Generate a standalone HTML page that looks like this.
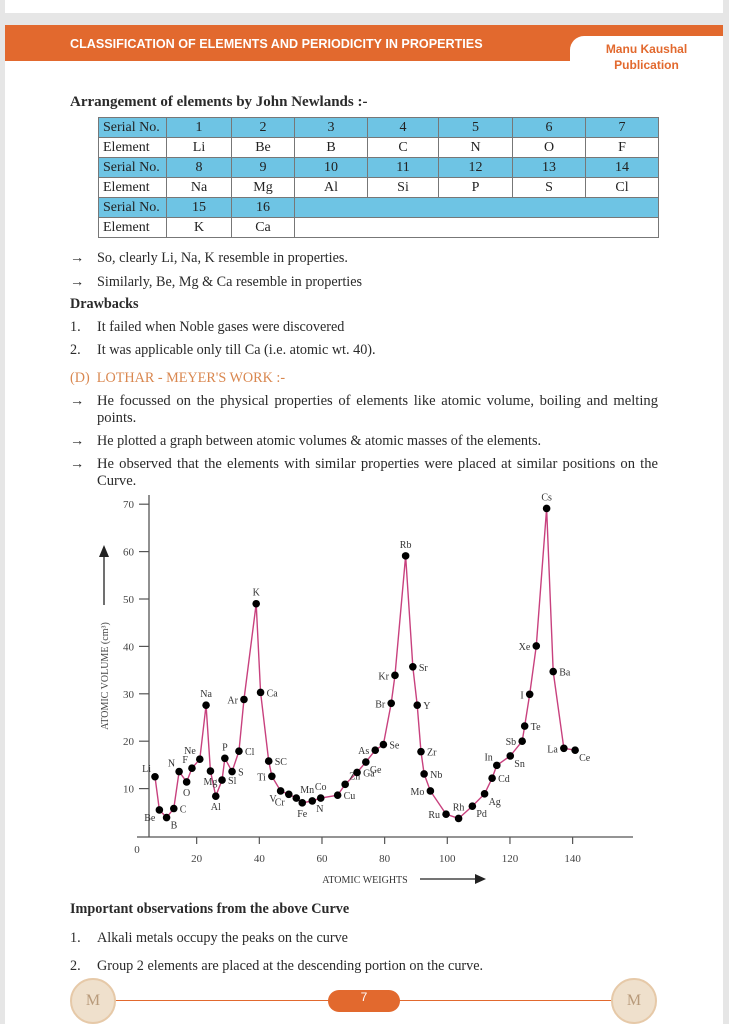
<!DOCTYPE html>
<html><head><meta charset="utf-8">
<style>
body{margin:0;width:729px;height:1024px;background:#e6e6e6;position:relative;overflow:hidden;font-family:"Liberation Serif",serif;color:#222}
.abs{position:absolute}
.t{position:absolute;font-size:14.2px;white-space:nowrap;color:#2a2a2a}
table{border-collapse:collapse;position:absolute;left:98px;top:117px;width:561px;font-size:14px;table-layout:fixed}
td{border:1px solid #777;height:19px;padding:0;text-align:center;line-height:19px}
td:first-child{text-align:left;padding-left:4px}
tr.s td{background:#6ec4e4}
</style></head><body>
<div class="abs" style="left:5px;top:0;width:718px;height:13px;background:#fff"></div>
<div class="abs" style="left:5px;top:25px;width:718px;height:999px;background:#fff"></div>
<div class="abs" style="left:5px;top:25px;width:718px;height:36px;background:#e2692e"></div>
<div class="abs" style="left:70px;top:37px;color:#fff;font:bold 12.6px 'Liberation Sans',sans-serif">CLASSIFICATION OF ELEMENTS AND PERIODICITY IN PROPERTIES</div>
<div class="abs" style="left:570px;top:36px;width:153px;height:46px;background:#fff;border-top-left-radius:14px;text-align:center;color:#e2692e;font:bold 12px 'Liberation Sans',sans-serif;line-height:16px;padding-top:5px">Manu Kaushal<br>Publication</div>

<div class="t" style="left:70px;top:94px;font-weight:bold;font-size:15px">Arrangement of elements by John Newlands :-</div>
<table>
<colgroup><col style="width:68px"><col style="width:65px"><col style="width:63px"><col style="width:73px"><col style="width:71px"><col style="width:74px"><col style="width:73px"><col style="width:73px"></colgroup>
<tr class="s"><td>Serial No.</td><td>1</td><td>2</td><td>3</td><td>4</td><td>5</td><td>6</td><td>7</td></tr>
<tr><td>Element</td><td>Li</td><td>Be</td><td>B</td><td>C</td><td>N</td><td>O</td><td>F</td></tr>
<tr class="s"><td>Serial No.</td><td>8</td><td>9</td><td>10</td><td>11</td><td>12</td><td>13</td><td>14</td></tr>
<tr><td>Element</td><td>Na</td><td>Mg</td><td>Al</td><td>Si</td><td>P</td><td>S</td><td>Cl</td></tr>
<tr class="s"><td>Serial No.</td><td>15</td><td>16</td><td colspan="5"></td></tr>
<tr><td>Element</td><td>K</td><td>Ca</td><td colspan="5"></td></tr>
</table>

<div class="t" style="left:70px;top:250px">→</div>
<div class="t" style="left:97px;top:250px">So, clearly Li, Na, K resemble in properties.</div>
<div class="t" style="left:70px;top:274px">→</div>
<div class="t" style="left:97px;top:274px">Similarly, Be, Mg &amp; Ca resemble in properties</div>
<div class="t" style="left:70px;top:296px;font-weight:bold">Drawbacks</div>
<div class="t" style="left:70px;top:319px">1.</div>
<div class="t" style="left:97px;top:319px">It failed when Noble gases were discovered</div>
<div class="t" style="left:70px;top:342px">2.</div>
<div class="t" style="left:97px;top:342px">It was applicable only till Ca (i.e. atomic wt. 40).</div>
<div class="t" style="left:70px;top:370px;color:#d9874f">(D)&nbsp;&nbsp;LOTHAR - MEYER'S WORK :-</div>
<div class="t" style="left:70px;top:393px">→</div>
<div class="t" style="left:97px;top:393px;width:561px;white-space:normal;text-align:justify;line-height:17px;text-align-last:left;font-size:14.6px">He focussed on the physical properties of elements like atomic volume, boiling and melting points.</div>
<div class="t" style="left:70px;top:433px">→</div>
<div class="t" style="left:97px;top:433px">He plotted a graph between atomic volumes &amp; atomic masses of the elements.</div>
<div class="t" style="left:70px;top:456px">→</div>
<div class="t" style="left:97px;top:456px;width:561px;white-space:normal;text-align:justify;line-height:17px;text-align-last:left;font-size:14.6px">He observed that the elements with similar properties were placed at similar positions on the Curve.</div>

<svg id="chart" class="abs" style="left:0;top:0" width="729" height="1024" font-family="Liberation Serif, serif"></svg>

<div class="t" style="left:70px;top:901px;font-weight:bold">Important observations from the above Curve</div>
<div class="t" style="left:70px;top:930px">1.</div>
<div class="t" style="left:97px;top:930px">Alkali metals occupy the peaks on the curve</div>
<div class="t" style="left:70px;top:958px">2.</div>
<div class="t" style="left:97px;top:958px">Group 2 elements are placed at the descending portion on the curve.</div>

<div class="abs" style="left:112px;top:1000px;width:505px;height:1px;background:#e2692e"></div>
<div class="abs" style="left:70px;top:978px;width:42px;height:42px;border-radius:50%;background:#efe0cc;border:2px solid #e6c9a8;text-align:center;line-height:42px;color:#b89a7a;font-size:16px">M</div>
<div class="abs" style="left:611px;top:978px;width:42px;height:42px;border-radius:50%;background:#efe0cc;border:2px solid #e6c9a8;text-align:center;line-height:42px;color:#b89a7a;font-size:16px">M</div>
<div class="abs" style="left:328px;top:990px;width:72px;height:22px;border-radius:11px;background:#e2692e;color:#fff;text-align:center;line-height:22px;font:12px 'Liberation Sans',sans-serif">7</div>

<script>
const names=["Li","Be","B","C","N","O","F","Ne","Na","Mg","Al","Sl","P","S","Cl","Ar","K","Ca","SC","Ti","V","Cr","Mn","Fe","N","Co","Cu","Zn","Ga","Ge","As","Se","Br","Kr","Rb","Sr","Y","Zr","Nb","Mo","Ru","Rh","Pd","Ag","Cd","In","Sn","Sb","Te","I","Xe","Cs","Ba","La","Ce"];
const weights=[6.7,8.1,10.4,12.7,14.4,16.8,18.5,21,23,24.4,26.1,28.1,29,31.3,33.5,35.1,39,40.4,43,44,46.8,49.4,51.8,53.7,56.9,59.6,65,67.4,71.2,74,77,79.6,82.1,83.3,86.7,89,90.4,91.6,92.6,94.6,99.6,103.6,108,111.9,114.3,115.8,120.1,123.9,124.7,126.3,128.4,131.7,133.8,137.2,140.8];
const volumes=[12.5,5.5,3.9,5.8,13.6,11.4,14.3,16.2,27.6,13.7,8.4,11.8,16.4,13.6,17.9,28.8,49,30.3,15.8,12.6,9.5,8.8,8,7,7.4,8,8.6,10.9,13.4,15.6,18.1,19.3,28,33.9,59.1,35.7,27.6,17.8,13.1,9.5,4.6,3.7,6.3,8.9,12.2,14.9,16.9,20,23.2,29.9,40.1,69.1,34.7,18.5,18.1];
const xTicks=[20,40,60,80,100,120,140];
const yTicks=[10,20,30,40,50,60,70];
// label placement style (offset direction per point)
const labelSide=["tl","bl","br","r","tl","b","tl","tl","t","b","b","r","t","r","r","l","t","r","r","l","bl","bl","tr","b","br","t","r","tr","r","br","l","r","l","l","t","r","r","r","r","l","l","t","br","br","r","tl","br","l","r","l","l","t","r","l","br"];

const svg=document.getElementById('chart');
const NS='http://www.w3.org/2000/svg';
const X=w=>134+3.133*w, Y=v=>836-4.74*v;
function mk(tag,attrs,parent){const e=document.createElementNS(NS,tag);for(const k in attrs)e.setAttribute(k,attrs[k]);(parent||svg).appendChild(e);return e;}
const axc='#555';
let e;
e=mk('line',{x1:149,y1:495,x2:149,y2:837,stroke:axc,'stroke-width':1.3});


e=mk('line',{x1:137,y1:837,x2:633,y2:837,stroke:axc,'stroke-width':1.3});


yTicks.forEach(t=>{
  e=mk('line',{x1:139,x2:149,y1:Y(t),y2:Y(t),stroke:axc,'stroke-width':1.2});
  
  
  e=mk('text',{x:134,y:Y(t)+4,'text-anchor':'end','font-size':11,fill:'#444'});e.textContent=t;
  
  
});
xTicks.forEach(t=>{
  e=mk('line',{x1:X(t),x2:X(t),y1:837,y2:844,stroke:axc,'stroke-width':1.2});
  
  
  e=mk('text',{x:X(t),y:862,'text-anchor':'middle','font-size':11,fill:'#444'});e.textContent=t;
  
  
});
e=mk('text',{x:137,y:853,'text-anchor':'middle','font-size':11,fill:'#444'});e.textContent='0';


e=mk('text',{x:0,y:0,'font-size':10,fill:'#444','text-anchor':'middle',transform:'translate(108,676) rotate(-90)'});e.textContent='ATOMIC VOLUME (cm³)';


e=mk('line',{x1:104,y1:605,x2:104,y2:556,stroke:'#222','stroke-width':1.3});


mk('polygon',{points:'104,545 99,557 109,557',fill:'#222'});
e=mk('text',{x:365,y:883,'font-size':10,fill:'#333','text-anchor':'middle'});e.textContent='ATOMIC WEIGHTS';


e=mk('line',{x1:420,y1:879,x2:476,y2:879,stroke:'#222','stroke-width':1.3});


mk('polygon',{points:'486,879 475,874 475,884',fill:'#222'});

const pts=weights.map((w,i)=>X(w)+','+Y(volumes[i])).join(' ');
e=mk('polyline',{points:pts,fill:'none',stroke:'#c8417e','stroke-width':1.4});


const off={t:[0,-8,'middle'],b:[0,14,'middle'],l:[-6,4,'end'],r:[6,4,'start'],tl:[-4,-5,'end'],tr:[4,-5,'start'],bl:[-4,11,'end'],br:[4,11,'start']};
weights.forEach((w,i)=>{
  const cx=X(w),cy=Y(volumes[i]);
  e=mk('circle',{cx:cx,cy:cy,r:3.8,fill:'#000'});
  
  
  const o=off[labelSide[i]];
  e=mk('text',{x:cx+o[0],y:cy+o[1],'text-anchor':o[2],'font-size':10,fill:'#333'});e.textContent=names[i];
  
  
});
</script>
</body></html>
